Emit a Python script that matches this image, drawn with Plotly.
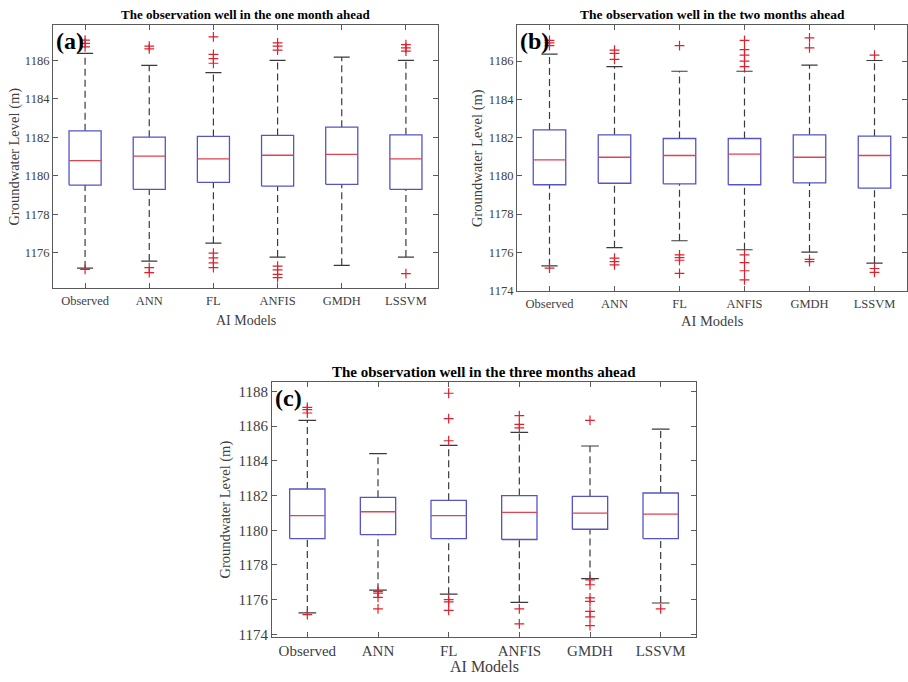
import plotly.graph_objects as go

models = ["Observed", "ANN", "FL", "ANFIS", "GMDH", "LSSVM"]
positions = [1, 2, 3, 4, 5, 6]

# Panel (a): one month ahead
a_hi = [1186.36, 1185.74, 1185.36, 1186.00, 1186.17, 1186.00]
a_q3 = [1182.34, 1182.01, 1182.05, 1182.10, 1182.53, 1182.13]
a_med = [1180.79, 1181.03, 1180.88, 1181.07, 1181.12, 1180.88]
a_q1 = [1179.52, 1179.30, 1179.66, 1179.47, 1179.56, 1179.30]
a_lo = [1175.21, 1175.57, 1176.50, 1175.78, 1175.35, 1175.78]
a_out = [
    [1187.05, 1186.88, 1186.70, 1175.14],
    [1186.74, 1186.60, 1175.23, 1174.97],
    [1187.22, 1186.31, 1186.09, 1185.85, 1175.98, 1175.74, 1175.48, 1175.23],
    [1186.91, 1186.74, 1186.53, 1175.31, 1175.11, 1174.88, 1174.71],
    [],
    [1186.82, 1186.65, 1186.48, 1174.92],
]

# Panel (b): two months ahead
b_hi = [1186.36, 1185.71, 1185.47, 1185.47, 1185.79, 1186.03]
b_q3 = [1182.40, 1182.14, 1181.95, 1181.95, 1182.14, 1182.07]
b_med = [1180.83, 1180.97, 1181.06, 1181.13, 1180.97, 1181.06]
b_q1 = [1179.53, 1179.61, 1179.58, 1179.53, 1179.63, 1179.35]
b_lo = [1175.29, 1176.24, 1176.60, 1176.13, 1176.01, 1175.43]
b_out = [
    [1187.08, 1186.95, 1186.81, 1175.17],
    [1186.57, 1186.40, 1186.09, 1175.69, 1175.51, 1175.34],
    [1186.81, 1175.86, 1175.72, 1175.58, 1174.89],
    [1187.08, 1186.60, 1186.31, 1186.00, 1185.71, 1175.86, 1175.46, 1175.03, 1174.55],
    [1187.21, 1186.69, 1175.63, 1175.51],
    [1186.31, 1175.15, 1174.95],
]

# Panel (c): three months ahead
c_hi = [1186.34, 1184.42, 1184.90, 1185.64, 1184.86, 1185.83]
c_q3 = [1182.38, 1181.90, 1181.73, 1182.00, 1181.96, 1182.15]
c_med = [1180.84, 1181.07, 1180.84, 1181.03, 1180.99, 1180.93]
c_q1 = [1179.52, 1179.75, 1179.52, 1179.47, 1180.06, 1179.52]
c_lo = [1175.24, 1176.55, 1176.32, 1175.85, 1177.22, 1175.81]
c_out = [
    [1187.09, 1186.95, 1186.76, 1175.14],
    [1176.48, 1176.38, 1176.13, 1175.47],
    [1187.90, 1186.44, 1185.16, 1176.00, 1175.87, 1175.39],
    [1186.61, 1186.10, 1185.90, 1175.47, 1174.61],
    [1186.34, 1177.14, 1176.86, 1176.10, 1175.90, 1175.33, 1175.01, 1174.51],
    [1175.47],
]

titles = [
    "The observation well in the one month ahead",
    "The observation well in the two months ahead",
    "The observation well in the three months ahead",
]
panel_tags = ["(a)", "(b)", "(c)"]

W, H = 908, 682
BOX_BLUE = "#5454c8"
MED_RED = "#e2414f"
WHISK = "#3a3a3a"
OUT_RED = "#e0202c"
AXIS_COL = "#5a5a5a"
TICK_COL = "#404040"
FONT = "Liberation Serif, Times New Roman, serif"

fig = go.Figure()

panels = [
    dict(data=(a_hi, a_q3, a_med, a_q1, a_lo, a_out), xd=(53, 438), yd=(25, 291),
         yr=[1174.15, 1187.85], yt=[1176, 1178, 1180, 1182, 1184, 1186], fs=12.5, ax=""),
    dict(data=(b_hi, b_q3, b_med, b_q1, b_lo, b_out), xd=(517, 907), yd=(25, 294),
         yr=[1173.95, 1187.9], yt=[1174, 1176, 1178, 1180, 1182, 1184, 1186], fs=12.5, ax="2"),
    dict(data=(c_hi, c_q3, c_med, c_q1, c_lo, c_out), xd=(272, 696), yd=(385, 643),
         yr=[1173.83, 1188.57], yt=[1174, 1176, 1178, 1180, 1182, 1184, 1186, 1188], fs=15, ax="3"),
]

half_box = 0.25
half_cap = 0.125

for p in panels:
    hi, q3, med, q1, lo, outs = p["data"]
    xa = "x" + p["ax"]
    ya = "y" + p["ax"]
    # whiskers (dashed)
    wx, wy = [], []
    for i, x in enumerate(positions):
        wx += [x, x, None, x, x, None]
        wy += [q3[i], hi[i], None, lo[i], q1[i], None]
    fig.add_trace(go.Scatter(x=wx, y=wy, mode="lines", xaxis=xa, yaxis=ya,
                             line=dict(color=WHISK, width=1.2, dash="7px,4px"),
                             showlegend=False, hoverinfo="skip"))
    # caps
    cx, cy = [], []
    for i, x in enumerate(positions):
        cx += [x - half_cap, x + half_cap, None, x - half_cap, x + half_cap, None]
        cy += [hi[i], hi[i], None, lo[i], lo[i], None]
    fig.add_trace(go.Scatter(x=cx, y=cy, mode="lines", xaxis=xa, yaxis=ya,
                             line=dict(color=WHISK, width=1.2),
                             showlegend=False, hoverinfo="skip"))
    # boxes (rectangles from quartiles)
    bx, by = [], []
    for i, x in enumerate(positions):
        bx += [x - half_box, x + half_box, x + half_box, x - half_box, x - half_box, None]
        by += [q1[i], q1[i], q3[i], q3[i], q1[i], None]
    fig.add_trace(go.Scatter(x=bx, y=by, mode="lines", xaxis=xa, yaxis=ya,
                             line=dict(color=BOX_BLUE, width=1.3),
                             showlegend=False, hoverinfo="skip"))
    # median (red)
    mx, my = [], []
    for i, x in enumerate(positions):
        mx += [x - half_box, x + half_box, None]
        my += [med[i], med[i], None]
    fig.add_trace(go.Scatter(x=mx, y=my, mode="lines", xaxis=xa, yaxis=ya,
                             line=dict(color=MED_RED, width=1.3),
                             showlegend=False, hoverinfo="skip"))
    # outliers
    ox, oy = [], []
    for i, x in enumerate(positions):
        for v in outs[i]:
            ox.append(x)
            oy.append(v)
    fig.add_trace(go.Scatter(x=ox, y=oy, mode="markers", xaxis=xa, yaxis=ya,
                             marker=dict(symbol="cross-thin", size=7,
                                         line=dict(color=OUT_RED, width=1.2)),
                             showlegend=False, hoverinfo="skip"))

layout = dict(
    width=W, height=H,
    margin=dict(l=0, r=0, t=0, b=0),
    paper_bgcolor="white", plot_bgcolor="white",
    font=dict(family=FONT, color=TICK_COL),
    showlegend=False,
)

annotations = []
for k, p in enumerate(panels):
    x0, x1 = p["xd"]
    y0, y1 = p["yd"]
    suf = p["ax"]
    fs = p["fs"]
    layout["xaxis" + suf] = dict(
        domain=[x0 / W, x1 / W], anchor="y" + suf, range=[0.5, 6.5],
        tickvals=positions, ticktext=models, ticks="inside", ticklen=5,
        tickcolor=AXIS_COL, showline=True, linecolor=AXIS_COL, linewidth=1.2,
        mirror="ticks", showgrid=False, zeroline=False,
        tickfont=dict(family=FONT, size=fs, color=TICK_COL),
    )
    layout["yaxis" + suf] = dict(
        domain=[1 - y1 / H, 1 - y0 / H], anchor="x" + suf, range=p["yr"],
        tickvals=p["yt"], ticks="inside", ticklen=5,
        tickcolor=AXIS_COL, showline=True, linecolor=AXIS_COL, linewidth=1.2,
        mirror="ticks", showgrid=False, zeroline=False,
        tickfont=dict(family=FONT, size=fs, color=TICK_COL),
    )
    cxm = (x0 + x1) / 2
    title_fs = {0: 13, 1: 13.5, 2: 15}[k]
    annotations.append(dict(text="<b>" + titles[k] + "</b>", x=cxm / W, y=1 - (y0 - 10) / H,
                            xref="paper", yref="paper", showarrow=False,
                            xanchor="center", yanchor="middle",
                            font=dict(family=FONT, size=title_fs, color="black")))
    annotations.append(dict(text="<b>" + panel_tags[k] + "</b>", x=(x0 + 1) / W, y=1 - (y0 + 1) / H,
                            xref="paper", yref="paper", showarrow=False,
                            xanchor="left", yanchor="top",
                            font=dict(family=FONT, size=24, color="black")))
    lab_fs = {0: 14, 1: 14.5, 2: 16}[k]
    xlab_y = {0: 323, 1: 324, 2: 672}[k]
    annotations.append(dict(text="AI Models", x=cxm / W, y=1 - xlab_y / H,
                            xref="paper", yref="paper", showarrow=False,
                            xanchor="center", yanchor="middle",
                            font=dict(family=FONT, size=lab_fs, color=TICK_COL)))
    ylab_x = {0: 15, 1: 477, 2: 225}[k]
    annotations.append(dict(text="Groundwater Level (m)", x=ylab_x / W, y=1 - ((y0 + y1) / 2) / H,
                            xref="paper", yref="paper", showarrow=False, textangle=-90,
                            xanchor="center", yanchor="middle",
                            font=dict(family=FONT, size=14.5, color=TICK_COL)))

layout["annotations"] = annotations
fig.update_layout(**layout)

post = (
    "var s='margin:0;padding:0;overflow:hidden;width:908px;height:682px;';"
    "document.documentElement.style.cssText=s;"
    "document.body.style.cssText=s;"
)
fig.write_html("out.html", config={"displayModeBar": False}, post_script=post)
